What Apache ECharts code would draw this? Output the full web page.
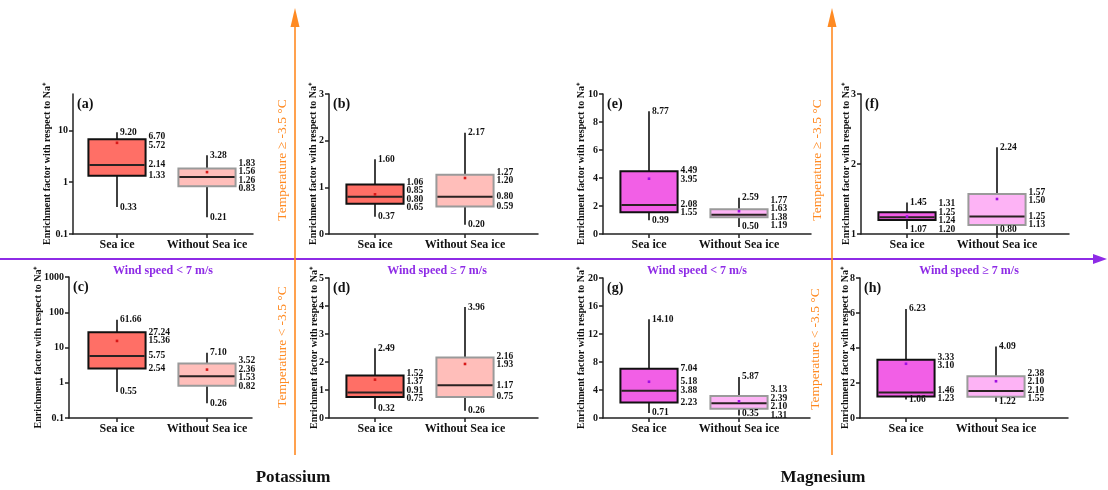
<!DOCTYPE html>
<html><head><meta charset="utf-8">
<script src="https://cdn.jsdelivr.net/npm/echarts@6/dist/echarts.min.js"></script>
<style>html,body{margin:0;padding:0;background:#fff}#c{width:1108px;height:490px}</style>
</head><body><div id="c"></div>
<script>
// ---------- DATA ----------
const categories = ['Sea ice', 'Without Sea ice'];
// stats order: [min, q1, median, q3, max, mean]
const a_seaIce        = [0.33, 1.33, 2.14, 6.70, 9.20, 5.72];
const a_withoutSeaIce = [0.21, 0.83, 1.26, 1.83, 3.28, 1.56];
const b_seaIce        = [0.37, 0.65, 0.80, 1.06, 1.60, 0.85];
const b_withoutSeaIce = [0.20, 0.59, 0.80, 1.27, 2.17, 1.20];
const c_seaIce        = [0.55, 2.54, 5.75, 27.24, 61.66, 15.36];
const c_withoutSeaIce = [0.26, 0.82, 1.53, 3.52, 7.10, 2.36];
const d_seaIce        = [0.32, 0.75, 0.91, 1.52, 2.49, 1.37];
const d_withoutSeaIce = [0.26, 0.75, 1.17, 2.16, 3.96, 1.93];
const e_seaIce        = [0.99, 1.55, 2.08, 4.49, 8.77, 3.95];
const e_withoutSeaIce = [0.50, 1.19, 1.38, 1.77, 2.59, 1.63];
const f_seaIce        = [1.07, 1.20, 1.24, 1.31, 1.45, 1.25];
const f_withoutSeaIce = [0.80, 1.13, 1.25, 1.57, 2.24, 1.50];
const g_seaIce        = [0.71, 2.23, 3.88, 7.04, 14.10, 5.18];
const g_withoutSeaIce = [0.35, 1.31, 2.10, 3.13, 5.87, 2.39];
const h_seaIce        = [1.06, 1.23, 1.46, 3.33, 6.23, 3.10];
const h_withoutSeaIce = [0.93, 1.22, 1.55, 2.38, 4.09, 2.10];
// printed labels of panel (h) "Without Sea ice" as they appear in the figure
const h_withoutSeaIceLabels = ['1.22', '1.55', '2.10', '2.38', '4.09', '2.10'];

// y tick labels per panel
const a_yTicks = [0.1, 1, 10];
const b_yTicks = [0, 1, 2, 3];
const c_yTicks = [0.1, 1, 10, 100, 1000];
const d_yTicks = [0, 1, 2, 3, 4, 5];
const e_yTicks = [0, 2, 4, 6, 8, 10];
const f_yTicks = [1, 2, 3];
const g_yTicks = [0, 4, 8, 12, 16, 20];
const h_yTicks = [0, 2, 4, 6, 8];
const a_yMax = 50;

const panelIds = ['a', 'b', 'e', 'f', 'c', 'd', 'g', 'h'];
const panelSea = [a_seaIce, b_seaIce, e_seaIce, f_seaIce, c_seaIce, d_seaIce, g_seaIce, h_seaIce];
const panelWithout = [a_withoutSeaIce, b_withoutSeaIce, e_withoutSeaIce, f_withoutSeaIce, c_withoutSeaIce, d_withoutSeaIce, g_withoutSeaIce, h_withoutSeaIce];
const panelTicks = [a_yTicks, b_yTicks, e_yTicks, f_yTicks, c_yTicks, d_yTicks, g_yTicks, h_yTicks];
const panelLog = [true, false, false, false, true, false, false, false];
const panelElement = ['K', 'K', 'Mg', 'Mg', 'K', 'K', 'Mg', 'Mg'];
const windTexts = ['Wind speed < 7 m/s', 'Wind speed ≥ 7 m/s', 'Wind speed < 7 m/s', 'Wind speed ≥ 7 m/s'];
const tempTexts = ['Temperature ≥ -3.5 °C', 'Temperature ≥ -3.5 °C', 'Temperature < -3.5 °C', 'Temperature < -3.5 °C'];
const elementTexts = ['Potassium', 'Magnesium'];
const yName = 'Enrichment factor with respect to Na⁺';

// ---------- LAYOUT / STYLE ----------
const FONT = '"Liberation Serif", "Times New Roman", serif';
const gridLeft   = [73, 329, 603, 861, 69, 329, 603, 860];
const gridTop    = [94, 94, 94, 94, 277, 278, 278, 278];
const gridWidth  = [180, 209, 208, 208, 183, 209, 207, 208];
const gridHeight = [140, 140, 140, 140, 141, 140, 140, 140];
const firstCenter = [44, 46, 46, 46, 48, 46, 46, 46];
const nameGaps   = [21, 11, 17, 10, 26, 10, 17, 10];
const PX_UNIT = 45;
const colors = {
  K:  { sea: '#FF6F66', without: '#FFBEBA', mean: '#D81818' },
  Mg: { sea: '#F25FE6', without: '#FDB3F5', mean: '#A010E0' }
};

const tf = (p, v) => panelLog[p] ? Math.log10(v) : v;
const yMinOf = p => tf(p, panelTicks[p][0]);
const yMaxOf = p => p === 0 ? Math.log10(a_yMax) : tf(p, panelTicks[p][panelTicks[p].length - 1]);

function labelsFor(p, k) {
  if (p === 7 && k === 1) return h_withoutSeaIceLabels;
  const s = k === 0 ? panelSea[p] : panelWithout[p];
  return s.map(v => v.toFixed(2));
}

function spread(ys, gap) {
  const y = ys.slice();
  for (let it = 0; it < 60; it++) {
    for (let i = 0; i < y.length - 1; i++) {
      const d = y[i + 1] - y[i];
      if (d < gap) { const m = (gap - d) / 2; y[i] -= m; y[i + 1] += m; }
    }
  }
  return y;
}

function makeRender(p) {
  return function (params, api) {
    const k = params.dataIndex;
    const labels = labelsFor(p, k);
    const ymin = yMinOf(p);
    const val = i => Math.max(api.value(i), ymin);
    const cx = api.coord([api.value(0), ymin])[0];
    const bottom = api.coord([api.value(0), ymin])[1];
    const py = i => api.coord([api.value(0), val(i)])[1];
    const yMin = py(1), yQ1 = py(2), yMed = py(3), yQ3 = py(4), yMax = py(5), yMean = py(6);
    const bw = api.size([1, 0])[0] * 1.27;
    const xL = cx - bw / 2, xR = cx + bw / 2;
    const col = colors[panelElement[p]];
    const txt = (t, x, y) => ({ type: 'text', style: { text: t, x: x, y: y, fill: '#111', font: 'bold 9.5px ' + FONT, align: 'left', verticalAlign: 'middle' } });
    const children = [];
    children.push({ type: 'line', shape: { x1: cx, y1: yMax, x2: cx, y2: yMin }, style: { stroke: '#111', lineWidth: 1.6 } });
    children.push({ type: 'rect', shape: { x: xL, y: yQ3, width: bw, height: yQ1 - yQ3 },
      style: { fill: k === 0 ? col.sea : col.without, stroke: k === 0 ? '#111' : '#9A9A9A', lineWidth: 2 } });
    children.push({ type: 'line', shape: { x1: xL + 1, y1: yMed, x2: xR - 1, y2: yMed }, style: { stroke: '#2a2222', lineWidth: 2 } });
    children.push({ type: 'rect', shape: { x: cx - 1.3, y: yMean - 1.3, width: 2.6, height: 2.6 }, style: { fill: col.mean } });
    // whisker labels
    children.push(txt(labels[4], cx + 3, yMax));
    children.push(txt(labels[0], cx + 3, Math.min(yMin, bottom - 4)));
    // right-side labels: q3, mean, median, q1
    const items = [[labels[3], yQ3], [labels[5], yMean], [labels[2], yMed], [labels[1], yQ1]];
    items.sort((a, b) => a[1] - b[1]);
    const ys = spread(items.map(d => d[1]), 8.5);
    items.forEach((d, i) => children.push(txt(d[0], xR + 3, ys[i])));
    return { type: 'group', children: children };
  };
}

const grids = [], xAxes = [], yAxes = [], series = [];
for (let p = 0; p < 8; p++) {
  grids.push({ left: gridLeft[p], top: gridTop[p], width: gridWidth[p], height: gridHeight[p] });
  const xmin = 1 - firstCenter[p] / PX_UNIT;
  xAxes.push({
    type: 'value', gridIndex: p, min: xmin, max: xmin + gridWidth[p] / PX_UNIT,
    splitLine: { show: false },
    axisLine: { show: true, onZero: false, lineStyle: { color: '#222', width: 1.5 } },
    axisTick: { show: true, length: 4, customValues: [1, 3], lineStyle: { color: '#222', width: 1.5 } },
    axisLabel: { customValues: [1, 3], margin: 5, formatter: v => categories[Math.round((v - 1) / 2)] || '',
      fontFamily: FONT, fontWeight: 'bold', fontSize: 12, color: '#111' }
  });
  const ticks = panelTicks[p].map(v => tf(p, v));
  yAxes.push({
    type: 'value', gridIndex: p, min: yMinOf(p), max: yMaxOf(p),
    name: yName, nameLocation: 'middle', nameRotate: 90, nameGap: nameGaps[p], nameMoveOverlap: false,
    nameTextStyle: { fontFamily: FONT, fontWeight: 'bold', fontSize: 10, color: '#111' },
    splitLine: { show: false },
    axisLine: { show: true, onZero: false, lineStyle: { color: '#222', width: 1.5 } },
    axisTick: { show: true, length: 4, customValues: ticks, lineStyle: { color: '#222', width: 1.5 } },
    axisLabel: { customValues: ticks, margin: 5, fontFamily: FONT, fontWeight: 'bold', fontSize: 10, color: '#111',
      formatter: v => panelLog[p] ? String(Number(Math.pow(10, v).toPrecision(6))) : String(Number(v.toPrecision(6))) }
  });
  series.push({
    type: 'custom', xAxisIndex: p, yAxisIndex: p, clip: false,
    renderItem: makeRender(p),
    encode: { x: 0, y: [1, 2, 3, 4, 5, 6] },
    data: [
      [1].concat(panelSea[p].map(v => tf(p, v))),
      [3].concat(panelWithout[p].map(v => tf(p, v)))
    ]
  });
}

const graphics = [];
const ORANGE = '#FF8A22', PURPLE = '#8E2BE6';
// panel letters
for (let p = 0; p < 8; p++) {
  graphics.push({ type: 'text', style: { text: '(' + panelIds[p] + ')', x: gridLeft[p] + 4, y: gridTop[p] + 10,
    font: 'bold 14px ' + FONT, fill: '#111', align: 'left', verticalAlign: 'middle' } });
}
// horizontal purple arrow
graphics.push({ type: 'line', shape: { x1: 0, y1: 259, x2: 1095, y2: 259 }, style: { stroke: PURPLE, lineWidth: 2 } });
graphics.push({ type: 'polygon', shape: { points: [[1107, 259], [1093, 254], [1093, 264]] }, style: { fill: PURPLE } });
// vertical orange arrows
[295, 832].forEach(x => {
  graphics.push({ type: 'line', shape: { x1: x, y1: 455, x2: x, y2: 22 }, style: { stroke: ORANGE, lineWidth: 1.6 } });
  graphics.push({ type: 'polygon', shape: { points: [[x, 8], [x - 4.5, 27], [x + 4.5, 27]] }, style: { fill: ORANGE } });
});
// wind speed labels
[[163, 271], [437, 271], [697, 271], [969, 271]].forEach((pos, i) => {
  graphics.push({ type: 'text', style: { text: windTexts[i], x: pos[0], y: pos[1], font: 'bold 12px ' + FONT,
    fill: PURPLE, align: 'center', verticalAlign: 'middle' } });
});
// temperature labels (rotated)
[[282, 160], [817, 160], [282, 347], [815, 349]].forEach((pos, i) => {
  graphics.push({ type: 'text', x: pos[0], y: pos[1], rotation: Math.PI / 2,
    style: { text: tempTexts[i], x: 0, y: 0, font: '13.5px ' + FONT, fill: ORANGE, align: 'center', verticalAlign: 'middle' } });
});
// element labels
[[293, 478], [823, 478]].forEach((pos, i) => {
  graphics.push({ type: 'text', style: { text: elementTexts[i], x: pos[0], y: pos[1], font: 'bold 17px ' + FONT,
    fill: '#111', align: 'center', verticalAlign: 'middle' } });
});

const chart = echarts.init(document.getElementById('c'), null, { renderer: 'canvas' });
chart.setOption({
  animation: false,
  backgroundColor: '#fff',
  grid: grids, xAxis: xAxes, yAxis: yAxes, series: series,
  graphic: graphics
});
</script></body></html>
